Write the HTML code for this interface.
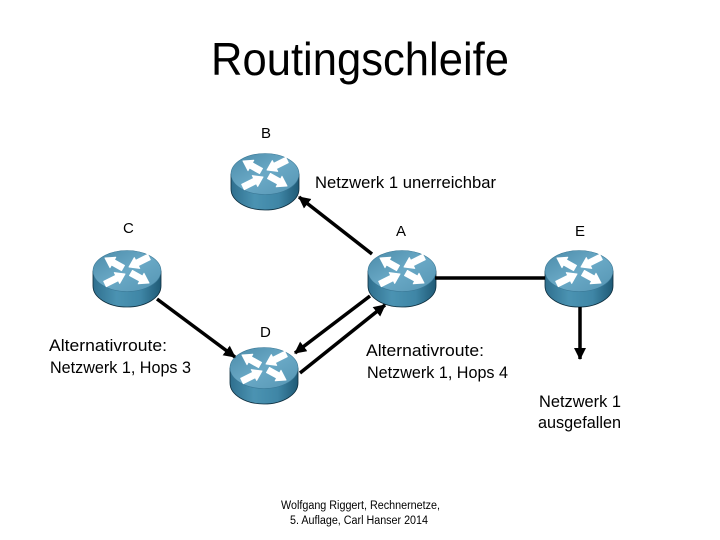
<!DOCTYPE html>
<html><head><meta charset="utf-8"><style>
html,body{margin:0;padding:0;background:#fff}
svg{display:block}
text{font-family:"Liberation Sans",sans-serif;fill:#000}
</style></head><body>
<svg width="720" height="540" viewBox="0 0 720 540" xmlns="http://www.w3.org/2000/svg">
<defs>
<linearGradient id="side" x1="0" x2="1" y1="0" y2="0"><stop offset="0" stop-color="#2f6f8e"/><stop offset=".35" stop-color="#4b93b2"/><stop offset=".7" stop-color="#3f86a6"/><stop offset="1" stop-color="#1f5a76"/></linearGradient>
<linearGradient id="top" x1="0" x2="1" y1="0" y2="1"><stop offset="0" stop-color="#4a8aa8"/><stop offset=".5" stop-color="#6aa9c6"/><stop offset="1" stop-color="#5595b3"/></linearGradient>
<g id="r">
<path d="M0 21V36C0 47.6 15.2 57 34 57S68 47.6 68 36V21Z" fill="url(#side)" stroke="#0c2c3c" stroke-width=".8"/>
<ellipse cx="34" cy="21" rx="34" ry="20.5" fill="url(#top)" stroke="#3a7896" stroke-width=".6"/>
<g fill="#fff" stroke="#fff" stroke-width="1" stroke-linejoin="round">
<polygon points="12,8 22.8,7.2 21.4,9.8 31.5,15.4 28.5,20.6 18.4,15 17,17.7"/>
<polygon points="56,33 45.2,33.8 46.6,31.1 36.5,25.6 39.5,20.4 49.6,26 51,23.3"/>
<polygon points="36,17 41.3,7.6 42.7,10.3 54.7,4.3 57.3,9.7 45.3,15.7 46.7,18.4"/>
<polygon points="32,24 26.7,33.4 25.3,30.7 13.3,36.7 10.7,31.3 22.7,25.3 21.3,22.6"/>
</g>
</g>
<marker id="a" markerUnits="userSpaceOnUse" markerWidth="14" markerHeight="14" refX="11" refY="6" orient="auto-start-reverse"><path d="M0 0L12 6L0 12Z" fill="#000"/></marker>
</defs>

<use href="#r" x="231" y="153"/>
<use href="#r" x="93" y="250"/>
<use href="#r" x="368" y="250"/>
<use href="#r" x="545" y="250"/>
<use href="#r" x="230" y="347"/>

<g stroke="#000" stroke-width="3.5" fill="none">
<path d="M372 254L299 197" marker-end="url(#a)"/>
<path d="M157 299L235 357" marker-end="url(#a)"/>
<path d="M370 296L295 353" marker-end="url(#a)"/>
<path d="M300 373L385 305" marker-end="url(#a)"/>
<path d="M435 278H545"/>
<path d="M580 307V359" marker-end="url(#a)"/>
</g>

<text x="211" y="75" font-size="46" fill="#111" textLength="298" lengthAdjust="spacingAndGlyphs">Routingschleife</text>
<g font-size="16.5">
<text x="261" y="138" font-size="15">B</text>
<text x="123" y="233" font-size="15">C</text>
<text x="396" y="236" font-size="15">A</text>
<text x="575" y="236" font-size="15">E</text>
<text x="260" y="337" font-size="15">D</text>
<text x="315" y="188" textLength="181" lengthAdjust="spacingAndGlyphs">Netzwerk 1 unerreichbar</text>
<text x="49" y="351" textLength="118" lengthAdjust="spacingAndGlyphs">Alternativroute:</text>
<text x="50" y="373" textLength="141" lengthAdjust="spacingAndGlyphs">Netzwerk 1, Hops 3</text>
<text x="366" y="356" textLength="118" lengthAdjust="spacingAndGlyphs">Alternativroute:</text>
<text x="367" y="378" textLength="141" lengthAdjust="spacingAndGlyphs">Netzwerk 1, Hops 4</text>
<text x="539" y="407" textLength="82" lengthAdjust="spacingAndGlyphs">Netzwerk 1</text>
<text x="538" y="428" textLength="83" lengthAdjust="spacingAndGlyphs">ausgefallen</text>
</g>
<g font-size="11.5">
<text x="281" y="509" textLength="159" lengthAdjust="spacingAndGlyphs">Wolfgang Riggert, Rechnernetze,</text>
<text x="290" y="524" textLength="138" lengthAdjust="spacingAndGlyphs">5. Auflage, Carl Hanser 2014</text>
</g>
</svg>
</body></html>
